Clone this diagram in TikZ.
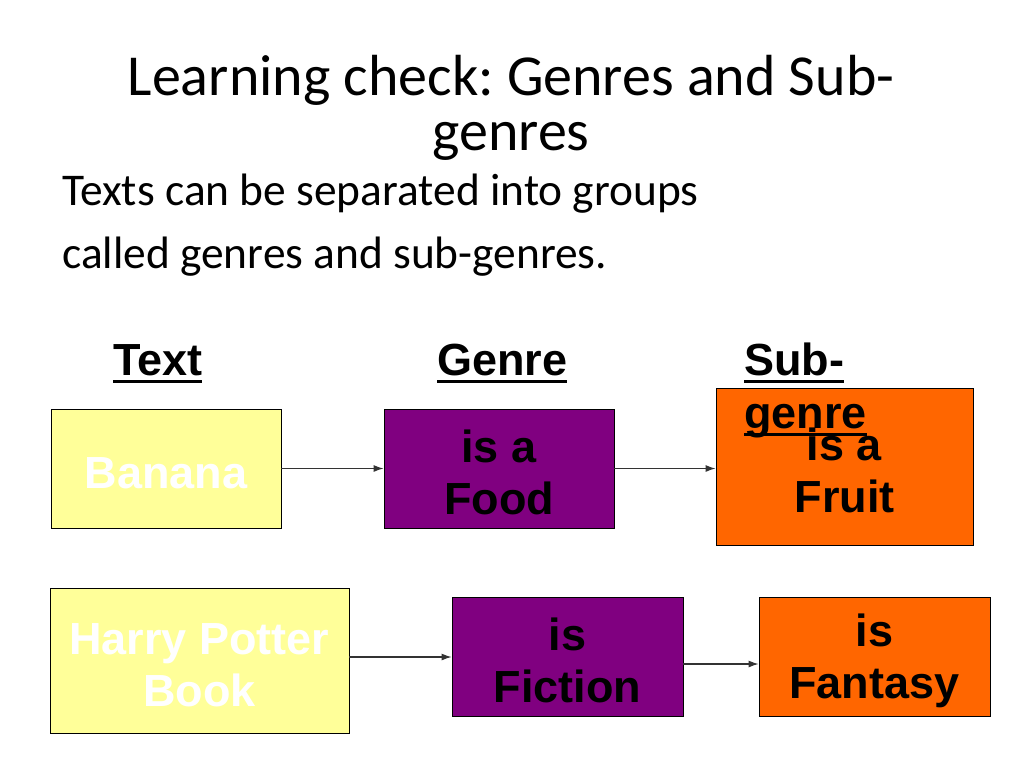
\documentclass[tikz,border=0pt]{standalone}
\usepackage{fontspec}
\setmainfont{Carlito}
\newfontfamily\boxfont{Liberation Sans}
\usetikzlibrary{arrows.meta}
\definecolor{pale}{HTML}{FFFF99}
\definecolor{plum}{HTML}{800080}
\definecolor{tang}{HTML}{FF6600}
\frenchspacing
\newcommand\myul[1]{\setbox0\hbox{#1}\rlap{\rule[-8pt]{\wd0}{2.6pt}}\box0}
\newcommand\topstrut{\rule{0pt}{41pt}}
\tikzset{
  box/.style={draw=black, line width=0.9pt, inner sep=0pt, align=center,
    font=\boxfont\bfseries\fontsize{45}{52}\selectfont},
  textbox/.style={box, fill=pale, text=white},
  genrebox/.style={box, fill=plum, text=black},
  subbox/.style={box, fill=tang, text=black},
  head/.style={anchor=base west, inner sep=0pt, align=left,
    font=\boxfont\bfseries\fontsize{45}{53}\selectfont},
  conn/.style={line width=1.1pt, draw=black!80, -{Latex[length=10pt,width=7pt]}},
}
\begin{document}
\begin{tikzpicture}[x=1pt,y=-1pt]
\useasboundingbox (0,0) rectangle (1024,768);
\fill[white] (0,0) rectangle (1024,768);
% title
\node[align=center, inner sep=0pt, anchor=base, font=\fontsize{58}{55}\selectfont] (title) at (511,150)
  {Learning check: Genres and Sub-\\genres};
\node[align=left, inner sep=0pt, anchor=base west, font=\fontsize{45.4}{63}\selectfont] (intro) at (62,268)
  {Texts can be separated into groups\\called genres and sub-genres.};
% boxes
\node[textbox, minimum width=230pt, minimum height=119pt] (banana) at (166,468.5) {\topstrut Banana};
\node[genrebox, minimum width=230pt, minimum height=119pt] (food) at (499,468.5) {\topstrut is a\\Food};
\node[subbox, minimum width=257pt, minimum height=157pt] (fruit) at (844.5,466.5) {\topstrut is a\\Fruit};
\node[textbox, minimum width=299pt, minimum height=145pt] (harry) at (199.5,660.5) {\topstrut Harry Potter\\Book};
\node[genrebox, minimum width=231pt, minimum height=119pt] (fiction) at (567.5,656.5) {\topstrut is\\Fiction};
\node[subbox, minimum width=231pt, minimum height=119pt] (fantasy) at (874.5,656.5) {\topstrut is\\Fantasy};
% headings
\node[head] (htext) at (113,375) {\myul{Text}};
\node[head] (hgenre) at (437,375) {\myul{Genre}};
\node[head] (hsub) at (744,428) {\myul{Sub-}\\\myul{genre}};
% connectors
\draw[conn] (banana.east) -- (food.west);
\draw[conn] (food.east) -- (food.east -| fruit.west);
\draw[conn] ([yshift=3.5pt]harry.east) -- ([yshift=3.5pt]harry.east -| fiction.west);
\draw[conn] ([yshift=-7.5pt]fiction.east) -- ([yshift=-7.5pt]fiction.east -| fantasy.west);
\end{tikzpicture}
\end{document}
